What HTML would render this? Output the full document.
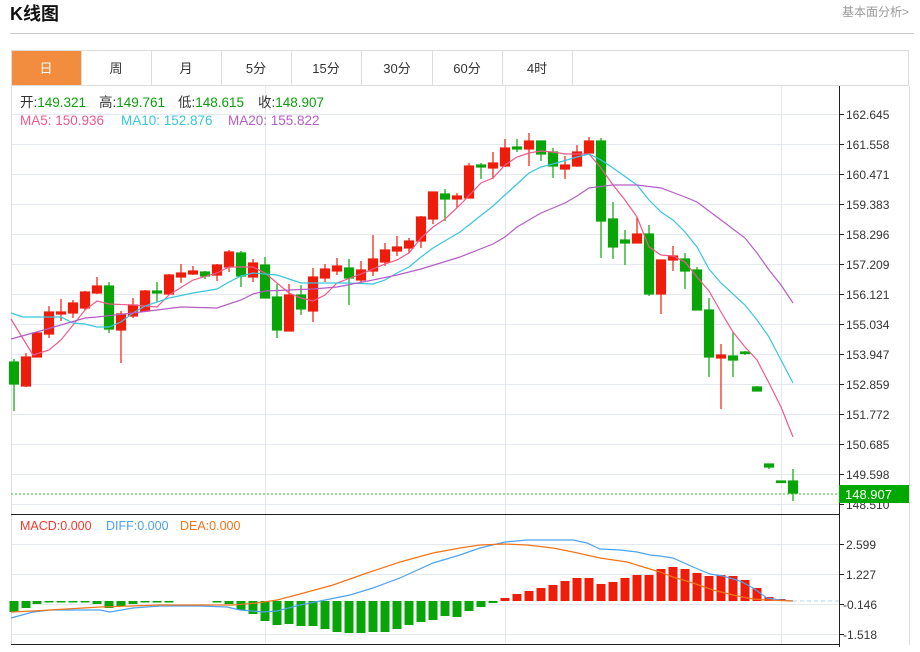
<!DOCTYPE html>
<html><head><meta charset="utf-8"><style>
body{margin:0;background:#fff;width:920px;height:647px;overflow:hidden;font-family:"Liberation Sans","Noto Sans CJK SC",sans-serif}
</style></head><body>
<svg width="920" height="647" xmlns="http://www.w3.org/2000/svg" font-family="Liberation Sans, Noto Sans CJK SC, sans-serif">
<text x="10" y="20" font-size="18" font-weight="bold" fill="#111">K线图</text>
<text x="909" y="16" font-size="12" fill="#999" text-anchor="end">基本面分析&gt;</text>
<line x1="10" y1="33.5" x2="914" y2="33.5" stroke="#ccc"/>
<!-- tabs -->
<rect x="11.5" y="50.5" width="897" height="35" fill="#fff" stroke="#ddd"/>
<rect x="12" y="51" width="69" height="34" fill="#f28c3f"/>
<g stroke="#ddd"><line x1="81.5" y1="51" x2="81.5" y2="85"/><line x1="151.5" y1="51" x2="151.5" y2="85"/><line x1="221.5" y1="51" x2="221.5" y2="85"/><line x1="291.5" y1="51" x2="291.5" y2="85"/><line x1="361.5" y1="51" x2="361.5" y2="85"/><line x1="432.5" y1="51" x2="432.5" y2="85"/><line x1="502.5" y1="51" x2="502.5" y2="85"/><line x1="572.5" y1="51" x2="572.5" y2="85"/></g>
<g font-size="13" fill="#333" text-anchor="middle"><text x="46" y="73" fill="#fff">日</text><text x="116" y="73">周</text><text x="186" y="73">月</text><text x="256" y="73">5分</text><text x="326" y="73">15分</text><text x="397" y="73">30分</text><text x="467" y="73">60分</text><text x="537" y="73">4时</text></g>
<!-- frame -->
<line x1="11.5" y1="86" x2="11.5" y2="645" stroke="#ddd"/>
<line x1="909.5" y1="86" x2="909.5" y2="645" stroke="#ddd"/>
<!-- grid -->
<g stroke="#e3e9ef"><line x1="12" y1="114.5" x2="839" y2="114.5"/><line x1="12" y1="144.5" x2="839" y2="144.5"/><line x1="12" y1="174.5" x2="839" y2="174.5"/><line x1="12" y1="204.5" x2="839" y2="204.5"/><line x1="12" y1="234.5" x2="839" y2="234.5"/><line x1="12" y1="264.5" x2="839" y2="264.5"/><line x1="12" y1="294.5" x2="839" y2="294.5"/><line x1="12" y1="324.5" x2="839" y2="324.5"/><line x1="12" y1="354.5" x2="839" y2="354.5"/><line x1="12" y1="384.5" x2="839" y2="384.5"/><line x1="12" y1="414.5" x2="839" y2="414.5"/><line x1="12" y1="444.5" x2="839" y2="444.5"/><line x1="12" y1="474.5" x2="839" y2="474.5"/><line x1="12" y1="504.5" x2="839" y2="504.5"/>
<line x1="265.5" y1="86" x2="265.5" y2="645"/><line x1="505.5" y1="86" x2="505.5" y2="645"/><line x1="781.5" y1="86" x2="781.5" y2="645"/>
<line x1="12" y1="544.5" x2="839" y2="544.5"/><line x1="12" y1="574.5" x2="839" y2="574.5"/><line x1="12" y1="604.5" x2="839" y2="604.5"/><line x1="12" y1="634.5" x2="839" y2="634.5"/></g>
<!-- axes -->
<line x1="839.5" y1="86" x2="839.5" y2="647" stroke="#222"/>
<line x1="11" y1="514.5" x2="839" y2="514.5" stroke="#222"/>
<line x1="11" y1="644.5" x2="839" y2="644.5" stroke="#222"/>
<g stroke="#222"><line x1="839" y1="114.5" x2="844" y2="114.5"/><line x1="839" y1="144.5" x2="844" y2="144.5"/><line x1="839" y1="174.5" x2="844" y2="174.5"/><line x1="839" y1="204.5" x2="844" y2="204.5"/><line x1="839" y1="234.5" x2="844" y2="234.5"/><line x1="839" y1="264.5" x2="844" y2="264.5"/><line x1="839" y1="294.5" x2="844" y2="294.5"/><line x1="839" y1="324.5" x2="844" y2="324.5"/><line x1="839" y1="354.5" x2="844" y2="354.5"/><line x1="839" y1="384.5" x2="844" y2="384.5"/><line x1="839" y1="414.5" x2="844" y2="414.5"/><line x1="839" y1="444.5" x2="844" y2="444.5"/><line x1="839" y1="474.5" x2="844" y2="474.5"/><line x1="839" y1="504.5" x2="844" y2="504.5"/><line x1="839" y1="544.5" x2="844" y2="544.5"/><line x1="839" y1="574.5" x2="844" y2="574.5"/><line x1="839" y1="604.5" x2="844" y2="604.5"/><line x1="839" y1="634.5" x2="844" y2="634.5"/></g>
<g font-size="12" fill="#333"><text x="846" y="119">162.645</text><text x="846" y="149">161.558</text><text x="846" y="179">160.471</text><text x="846" y="209">159.383</text><text x="846" y="239">158.296</text><text x="846" y="269">157.209</text><text x="846" y="299">156.121</text><text x="846" y="329">155.034</text><text x="846" y="359">153.947</text><text x="846" y="389">152.859</text><text x="846" y="419">151.772</text><text x="846" y="449">150.685</text><text x="846" y="479">149.598</text><text x="846" y="509">148.510</text>
<text x="846" y="549">2.599</text><text x="846" y="579">1.227</text><text x="843" y="609">-0.146</text><text x="843" y="639">-1.518</text></g>
<!-- legend -->
<g font-size="13.5" fill="#333">
<text x="20" y="107">开:<tspan fill="#0a9f0a">149.321</tspan></text>
<text x="99" y="107">高:<tspan fill="#0a9f0a">149.761</tspan></text>
<text x="178" y="107">低:<tspan fill="#0a9f0a">148.615</tspan></text>
<text x="258" y="107">收:<tspan fill="#0a9f0a">148.907</tspan></text>
<text x="20" y="125" fill="#ee5a8a">MA5: 150.936</text>
<text x="121" y="125" fill="#38c6de">MA10: 152.876</text>
<text x="228" y="125" fill="#b55dc6">MA20: 155.822</text>
</g>
<g font-size="12.5">
<text x="20" y="530" fill="#f03a2a">MACD:0.000</text>
<text x="106" y="530" fill="#4ea3ee">DIFF:0.000</text>
<text x="180" y="530" fill="#f0741a">DEA:0.000</text>
</g>
<!-- candles -->
<g stroke-width="1.2">
<g stroke="#08a408" fill="#08a408"><line x1="14" y1="359" x2="14" y2="411"/><rect x="9.5" y="362" width="9" height="22"/></g>
<g stroke="#ee1d0b" fill="#ee1d0b"><line x1="26" y1="353" x2="26" y2="387"/><rect x="21.5" y="357" width="9" height="29"/>
<line x1="37" y1="333" x2="37" y2="357"/><rect x="32.5" y="333" width="9" height="24"/>
<line x1="49" y1="306" x2="49" y2="338"/><rect x="44.5" y="312" width="9" height="22"/>
<line x1="61" y1="299" x2="61" y2="321"/><rect x="56.5" y="312" width="9" height="2"/>
<line x1="73" y1="300" x2="73" y2="318"/><rect x="68.5" y="303" width="9" height="10"/>
<line x1="85" y1="291" x2="85" y2="310"/><rect x="80.5" y="292" width="9" height="16"/>
<line x1="97" y1="277" x2="97" y2="294"/><rect x="92.5" y="286" width="9" height="7"/></g>
<g stroke="#08a408" fill="#08a408"><line x1="109" y1="282" x2="109" y2="333"/><rect x="104.5" y="286" width="9" height="43"/></g>
<g stroke="#ee1d0b" fill="#ee1d0b"><line x1="121" y1="311" x2="121" y2="363"/><rect x="116.5" y="314" width="9" height="16"/>
<line x1="133" y1="298" x2="133" y2="318"/><rect x="128.5" y="305" width="9" height="11"/>
<line x1="145" y1="290" x2="145" y2="312"/><rect x="140.5" y="291" width="9" height="20"/></g>
<g stroke="#08a408" fill="#08a408"><line x1="157" y1="282" x2="157" y2="302"/><rect x="152.5" y="291" width="9" height="2"/></g>
<g stroke="#ee1d0b" fill="#ee1d0b"><line x1="169" y1="274" x2="169" y2="295"/><rect x="164.5" y="275" width="9" height="19"/>
<line x1="181" y1="264" x2="181" y2="283"/><rect x="176.5" y="273" width="9" height="4"/>
<line x1="193" y1="266" x2="193" y2="275"/><rect x="188.5" y="271" width="9" height="3"/></g>
<g stroke="#08a408" fill="#08a408"><line x1="205" y1="271" x2="205" y2="279"/><rect x="200.5" y="272" width="9" height="4"/></g>
<g stroke="#ee1d0b" fill="#ee1d0b"><line x1="217" y1="264" x2="217" y2="281"/><rect x="212.5" y="265" width="9" height="10"/>
<line x1="229" y1="250" x2="229" y2="272"/><rect x="224.5" y="252" width="9" height="15"/></g>
<g stroke="#08a408" fill="#08a408"><line x1="241" y1="251" x2="241" y2="287"/><rect x="236.5" y="253" width="9" height="23"/></g>
<g stroke="#ee1d0b" fill="#ee1d0b"><line x1="253" y1="259" x2="253" y2="282"/><rect x="248.5" y="263" width="9" height="14"/></g>
<g stroke="#08a408" fill="#08a408"><line x1="265" y1="257" x2="265" y2="298"/><rect x="260.5" y="265" width="9" height="33"/>
<line x1="277" y1="284" x2="277" y2="338"/><rect x="272.5" y="297" width="9" height="33"/></g>
<g stroke="#ee1d0b" fill="#ee1d0b"><line x1="289" y1="284" x2="289" y2="331"/><rect x="284.5" y="295" width="9" height="36"/></g>
<g stroke="#08a408" fill="#08a408"><line x1="301" y1="285" x2="301" y2="315"/><rect x="296.5" y="295" width="9" height="14"/></g>
<g stroke="#ee1d0b" fill="#ee1d0b"><line x1="313" y1="268" x2="313" y2="322"/><rect x="308.5" y="277" width="9" height="34"/>
<line x1="325" y1="264" x2="325" y2="282"/><rect x="320.5" y="269" width="9" height="9"/>
<line x1="337" y1="258" x2="337" y2="275"/><rect x="332.5" y="266" width="9" height="5"/></g>
<g stroke="#08a408" fill="#08a408"><line x1="349" y1="259" x2="349" y2="305"/><rect x="344.5" y="268" width="9" height="10"/></g>
<g stroke="#ee1d0b" fill="#ee1d0b"><line x1="361" y1="261" x2="361" y2="282"/><rect x="356.5" y="270" width="9" height="10"/>
<line x1="373" y1="235" x2="373" y2="276"/><rect x="368.5" y="259" width="9" height="12"/>
<line x1="385" y1="243" x2="385" y2="266"/><rect x="380.5" y="250" width="9" height="12"/>
<line x1="397" y1="236" x2="397" y2="256"/><rect x="392.5" y="247" width="9" height="4"/>
<line x1="409" y1="238" x2="409" y2="253"/><rect x="404.5" y="241" width="9" height="7"/>
<line x1="421" y1="216" x2="421" y2="248"/><rect x="416.5" y="217" width="9" height="24"/>
<line x1="433" y1="192" x2="433" y2="224"/><rect x="428.5" y="192" width="9" height="27"/></g>
<g stroke="#08a408" fill="#08a408"><line x1="445" y1="189" x2="445" y2="221"/><rect x="440.5" y="194" width="9" height="5"/></g>
<g stroke="#ee1d0b" fill="#ee1d0b"><line x1="457" y1="193" x2="457" y2="208"/><rect x="452.5" y="196" width="9" height="3"/>
<line x1="469" y1="163" x2="469" y2="198"/><rect x="464.5" y="166" width="9" height="32"/></g>
<g stroke="#08a408" fill="#08a408"><line x1="481" y1="163" x2="481" y2="179"/><rect x="476.5" y="165" width="9" height="2"/></g>
<g stroke="#ee1d0b" fill="#ee1d0b"><line x1="493" y1="152" x2="493" y2="179"/><rect x="488.5" y="163" width="9" height="5"/>
<line x1="505" y1="139" x2="505" y2="167"/><rect x="500.5" y="148" width="9" height="18"/></g>
<g stroke="#08a408" fill="#08a408"><line x1="517" y1="139" x2="517" y2="152"/><rect x="512.5" y="147" width="9" height="2"/></g>
<g stroke="#ee1d0b" fill="#ee1d0b"><line x1="529" y1="133" x2="529" y2="166"/><rect x="524.5" y="141" width="9" height="8"/></g>
<g stroke="#08a408" fill="#08a408"><line x1="541" y1="141" x2="541" y2="161"/><rect x="536.5" y="141" width="9" height="13"/>
<line x1="553" y1="148" x2="553" y2="178"/><rect x="548.5" y="152" width="9" height="14"/></g>
<g stroke="#ee1d0b" fill="#ee1d0b"><line x1="565" y1="156" x2="565" y2="179"/><rect x="560.5" y="165" width="9" height="4"/>
<line x1="577" y1="145" x2="577" y2="167"/><rect x="572.5" y="152" width="9" height="14"/>
<line x1="589" y1="137" x2="589" y2="153"/><rect x="584.5" y="141" width="9" height="12"/></g>
<g stroke="#08a408" fill="#08a408"><line x1="601" y1="138" x2="601" y2="258"/><rect x="596.5" y="141" width="9" height="80"/>
<line x1="613" y1="202" x2="613" y2="259"/><rect x="608.5" y="219" width="9" height="28"/>
<line x1="625" y1="230" x2="625" y2="265"/><rect x="620.5" y="240" width="9" height="3"/></g>
<g stroke="#ee1d0b" fill="#ee1d0b"><line x1="637" y1="217" x2="637" y2="243"/><rect x="632.5" y="234" width="9" height="9"/></g>
<g stroke="#08a408" fill="#08a408"><line x1="649" y1="225" x2="649" y2="296"/><rect x="644.5" y="234" width="9" height="60"/></g>
<g stroke="#ee1d0b" fill="#ee1d0b"><line x1="661" y1="260" x2="661" y2="314"/><rect x="656.5" y="260" width="9" height="34"/>
<line x1="673" y1="246" x2="673" y2="271"/><rect x="668.5" y="256" width="9" height="4"/></g>
<g stroke="#08a408" fill="#08a408"><line x1="685" y1="253" x2="685" y2="289"/><rect x="680.5" y="259" width="9" height="12"/>
<line x1="697" y1="267" x2="697" y2="310"/><rect x="692.5" y="270" width="9" height="40"/>
<line x1="709" y1="298" x2="709" y2="377"/><rect x="704.5" y="310" width="9" height="47"/></g>
<g stroke="#ee1d0b" fill="#ee1d0b"><line x1="721" y1="344" x2="721" y2="409"/><rect x="716.5" y="355" width="9" height="3"/></g>
<g stroke="#08a408" fill="#08a408"><line x1="733" y1="332" x2="733" y2="377"/><rect x="728.5" y="356" width="9" height="4"/>
<line x1="745" y1="351" x2="745" y2="355"/><rect x="740.5" y="352" width="9" height="1.5"/>
<line x1="757" y1="386" x2="757" y2="391"/><rect x="752.5" y="387" width="9" height="4"/>
<line x1="769" y1="464" x2="769" y2="469"/><rect x="764.5" y="464" width="9" height="3"/>
<rect x="776.5" y="481" width="9" height="1.5"/>
<line x1="793" y1="469" x2="793" y2="501"/><rect x="788.5" y="481" width="9" height="12"/></g>
</g>
<!-- MA lines -->
<polyline fill="none" stroke="#ee5a8a" stroke-width="1.2" points="11,319 33,355 49,350 61,340 85,310 97,301 109,304 133,305 157,307 169,295 193,280 217,273 229,267 253,267 265,273 277,283 289,293 301,298 313,301 325,295 337,283 361,274 385,264 397,260 409,253 421,238 433,227 445,219 460,205 481,183 493,178 505,165 517,157 529,153 541,151 553,152 565,154 589,154 601,168 613,185 625,200 637,217 649,247 661,255 673,256 685,262 697,277 709,291 721,312 733,332 745,347 757,360 769,383 781,407 793,437"/>
<polyline fill="none" stroke="#38c6de" stroke-width="1.2" points="11,313 23,317 43,317 61,317 73,323 85,324 97,327 109,327 121,322 133,313 145,306 169,298 193,293 217,289 229,282 241,276 253,273 277,275 301,283 349,283 373,284 385,280 397,273 409,267 421,257 433,248 460,232 493,206 529,173 541,167 553,164 577,157 589,154 601,160 613,168 637,185 649,200 661,212 673,220 685,232 697,247 709,269 721,283 745,305 757,320 769,337 781,360 793,383"/>
<polyline fill="none" stroke="#b55dc6" stroke-width="1.2" points="11,339 33,333 61,325 85,318 97,317 133,313 157,310 181,307 217,308 241,300 253,294 265,291 289,290 313,289 337,287 373,280 397,275 421,269 460,257 493,244 505,237 517,227 541,213 565,203 577,196 589,188 613,185 637,185 661,188 685,197 697,202 721,220 745,238 757,253 769,270 781,285 793,303"/>
<!-- last price -->
<line x1="11" y1="494" x2="839" y2="494" stroke="#33bb33" stroke-dasharray="2,2"/>
<rect x="839" y="485" width="70" height="18" fill="#00a800"/>
<text x="845" y="499" font-size="13" fill="#fff">148.907</text>
<!-- MACD bars -->
<g fill="#08a408">
<rect x="9.5" y="601" width="9" height="11"/><rect x="21.5" y="601" width="9" height="7"/><rect x="32.5" y="601" width="9" height="3"/><rect x="44.5" y="601" width="9" height="1.5"/><rect x="56.5" y="601" width="9" height="1.5"/><rect x="68.5" y="601" width="9" height="1.5"/><rect x="80.5" y="601" width="9" height="1.5"/><rect x="92.5" y="601" width="9" height="3"/><rect x="104.5" y="601" width="9" height="7"/><rect x="116.5" y="601" width="9" height="5"/><rect x="128.5" y="601" width="9" height="3"/><rect x="140.5" y="601" width="9" height="1.5"/><rect x="152.5" y="601" width="9" height="1.5"/><rect x="164.5" y="601" width="9" height="1.5"/><rect x="212.5" y="601" width="9" height="1.5"/><rect x="224.5" y="601" width="9" height="3"/><rect x="236.5" y="601" width="9" height="9"/><rect x="248.5" y="601" width="9" height="13"/><rect x="260.5" y="601" width="9" height="20"/><rect x="272.5" y="601" width="9" height="24"/><rect x="284.5" y="601" width="9" height="23"/><rect x="296.5" y="601" width="9" height="25"/><rect x="308.5" y="601" width="9" height="25"/><rect x="320.5" y="601" width="9" height="28"/><rect x="332.5" y="601" width="9" height="31"/><rect x="344.5" y="601" width="9" height="32"/><rect x="356.5" y="601" width="9" height="32"/><rect x="368.5" y="601" width="9" height="31"/><rect x="380.5" y="601" width="9" height="31"/><rect x="392.5" y="601" width="9" height="28"/><rect x="404.5" y="601" width="9" height="24"/><rect x="416.5" y="601" width="9" height="21"/><rect x="428.5" y="601" width="9" height="19"/><rect x="440.5" y="601" width="9" height="15"/><rect x="452.5" y="601" width="9" height="16"/><rect x="464.5" y="601" width="9" height="10"/><rect x="476.5" y="601" width="9" height="6"/><rect x="488.5" y="601" width="9" height="2"/>
</g>
<g fill="#ee1d0b">
<rect x="500.5" y="598" width="9" height="3"/><rect x="512.5" y="594" width="9" height="7"/><rect x="524.5" y="591" width="9" height="10"/><rect x="536.5" y="588" width="9" height="13"/><rect x="548.5" y="585" width="9" height="16"/><rect x="560.5" y="581" width="9" height="20"/><rect x="572.5" y="578" width="9" height="23"/><rect x="584.5" y="578" width="9" height="23"/><rect x="596.5" y="584" width="9" height="17"/><rect x="608.5" y="582" width="9" height="19"/><rect x="620.5" y="578" width="9" height="23"/><rect x="632.5" y="575" width="9" height="26"/><rect x="644.5" y="575" width="9" height="26"/><rect x="656.5" y="569" width="9" height="32"/><rect x="668.5" y="567" width="9" height="34"/><rect x="680.5" y="569" width="9" height="32"/><rect x="692.5" y="573" width="9" height="28"/><rect x="704.5" y="576" width="9" height="25"/><rect x="716.5" y="575" width="9" height="26"/><rect x="728.5" y="576" width="9" height="25"/><rect x="740.5" y="580" width="9" height="21"/><rect x="752.5" y="588" width="9" height="13"/><rect x="764.5" y="597" width="9" height="4"/><rect x="776.5" y="599" width="9" height="2"/>
</g>
<line x1="793" y1="601" x2="839" y2="601" stroke="#a8d4f0" stroke-dasharray="4,3"/>
<polyline fill="none" stroke="#4ea3ee" stroke-width="1.2" points="11,618 33,612 50,610 100,610 110,612 133,608 160,606 200,606 227,607 240,610 263,612 277,611 300,605 320,601 350,595 373,588 400,578 433,563 460,555 480,548 505,542 527,540 573,540 587,543 600,549 620,550 637,552 650,555 660,556 673,558 693,567 710,574 723,576 740,581 753,588 767,598 780,600 793,601"/>
<polyline fill="none" stroke="#f0741a" stroke-width="1.2" points="11,612 33,611 100,607 160,605 233,605 257,603 277,600 300,594 333,585 367,573 400,562 433,553 460,548 480,545 505,544 527,545 553,548 573,552 600,558 627,562 640,566 660,572 673,577 693,583 713,590 733,595 753,599 767,600 793,601"/>
</svg>
</body></html>
